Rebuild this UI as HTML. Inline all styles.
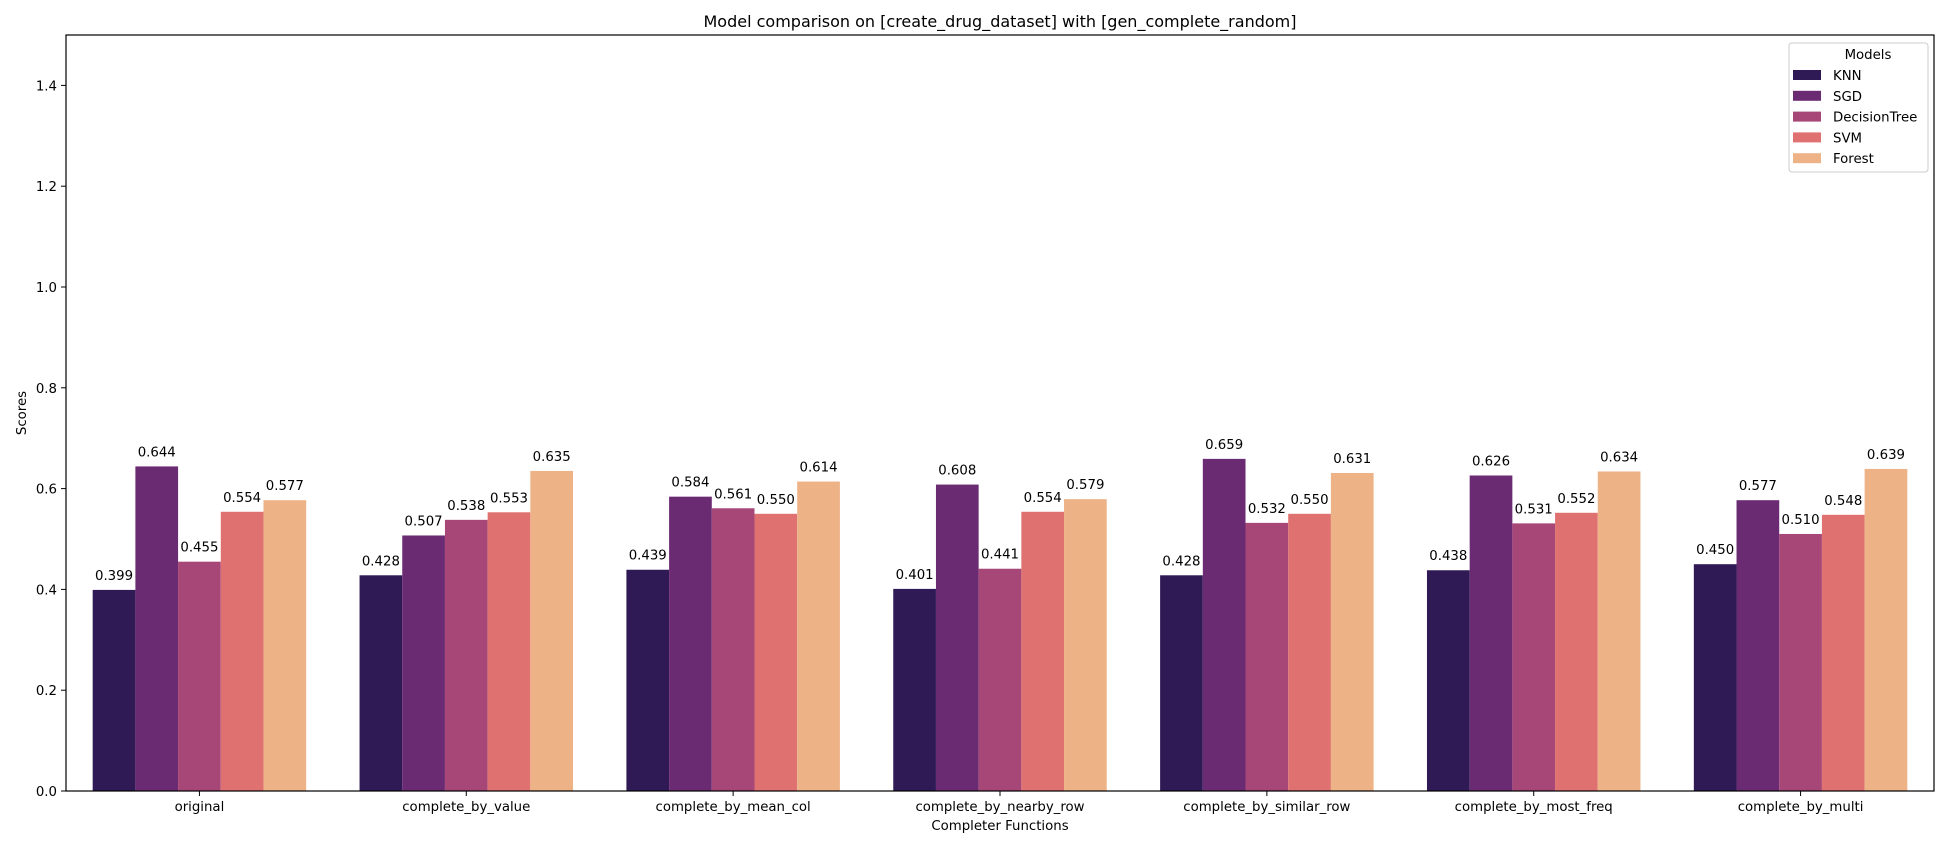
<!DOCTYPE html>
<html><head><meta charset="utf-8"><style>
html,body{margin:0;padding:0;background:#fff;}
svg{display:block;font-family:"DejaVu Sans","Liberation Sans",sans-serif;}
</style></head><body>
<svg id="chart" width="1950" height="850" viewBox="0 0 1950 850">
<rect x="0" y="0" width="1950" height="850" fill="#fff"/>
<text x="1000" y="27" font-size="16" text-anchor="middle" fill="#000">Model comparison on [create_drug_dataset] with [gen_complete_random]</text>
<g id="bars"></g>
<g id="labels"></g>
<g id="yaxis"></g>
<g id="xaxis"></g>
<rect x="66" y="35" width="1868" height="756" fill="none" stroke="#000" stroke-width="1.2"/>
<text x="1000" y="830" font-size="13.3" text-anchor="middle">Completer Functions</text>
<text x="26" y="413" font-size="13.3" text-anchor="middle" transform="rotate(-90 26 413)">Scores</text>
<g id="legend">
<rect x="1789" y="43" width="139" height="129" rx="3" fill="#fff" stroke="#ccc"/>
<text x="1868" y="59" font-size="13.3" text-anchor="middle">Models</text>
</g>
</svg>
<script>
const categories = ["original","complete_by_value","complete_by_mean_col","complete_by_nearby_row","complete_by_similar_row","complete_by_most_freq","complete_by_multi"];
const models = ["KNN","SGD","DecisionTree","SVM","Forest"];
const colors = ["#2f1a55","#6b2b73","#a64778","#df7270","#eeb287"];
const knn = [0.399,0.428,0.439,0.401,0.428,0.438,0.450];
const sgd = [0.644,0.507,0.584,0.608,0.659,0.626,0.577];
const decisionTree = [0.455,0.538,0.561,0.441,0.532,0.531,0.510];
const svm = [0.554,0.553,0.550,0.554,0.550,0.552,0.548];
const forest = [0.577,0.635,0.614,0.579,0.631,0.634,0.639];
const yTicks = [0.0,0.2,0.4,0.6,0.8,1.0,1.2,1.4];
const series = [knn,sgd,decisionTree,svm,forest];
const NS = "http://www.w3.org/2000/svg";
const L=66,R=1934,T=35,B=791,YMAX=1.5;
const y = v => B - v/YMAX*(B-T);
const groupW = (R-L)/categories.length;
const barW = groupW*0.8/models.length;
const xc = i => L + groupW*(i+0.5);
const bars=document.getElementById('bars'), labels=document.getElementById('labels');
series.forEach((s,m)=>{
  s.forEach((v,i)=>{
    const x = xc(i) - groupW*0.4 + m*barW;
    const r=document.createElementNS(NS,'rect');
    r.setAttribute('x',x);r.setAttribute('y',y(v));r.setAttribute('width',barW);r.setAttribute('height',B-y(v));r.setAttribute('fill',colors[m]);
    
    
    bars.appendChild(r);
    const t=document.createElementNS(NS,'text');
    t.setAttribute('x',x+barW/2);t.setAttribute('y',y(v)-10);t.setAttribute('font-size','13.3');t.setAttribute('text-anchor','middle');
    t.textContent=v.toFixed(3);
    
    
    labels.appendChild(t);
  });
});
const ya=document.getElementById('yaxis');
yTicks.forEach(v=>{
  const l=document.createElementNS(NS,'line');
  l.setAttribute('x1',L-5);l.setAttribute('x2',L);l.setAttribute('y1',y(v));l.setAttribute('y2',y(v));l.setAttribute('stroke','#000');
  
  
  ya.appendChild(l);
  const t=document.createElementNS(NS,'text');
  t.setAttribute('x',L-9);t.setAttribute('y',y(v)+5);t.setAttribute('font-size','13.3');t.setAttribute('text-anchor','end');
  t.textContent=v.toFixed(1);
  
  
  ya.appendChild(t);
});
const xa=document.getElementById('xaxis');
categories.forEach((c,i)=>{
  const l=document.createElementNS(NS,'line');
  l.setAttribute('x1',xc(i));l.setAttribute('x2',xc(i));l.setAttribute('y1',B);l.setAttribute('y2',B+5);l.setAttribute('stroke','#000');
  
  
  xa.appendChild(l);
  const t=document.createElementNS(NS,'text');
  t.setAttribute('x',xc(i));t.setAttribute('y',B+20);t.setAttribute('font-size','13.3');t.setAttribute('text-anchor','middle');
  t.textContent=c;
  
  
  xa.appendChild(t);
});
const lg=document.getElementById('legend');
models.forEach((m,k)=>{
  const yy=75+k*20.8;
  const r=document.createElementNS(NS,'rect');
  r.setAttribute('x',1793);r.setAttribute('y',yy-5);r.setAttribute('width',28);r.setAttribute('height',10);r.setAttribute('fill',colors[k]);
  
  
  lg.appendChild(r);
  const t=document.createElementNS(NS,'text');
  t.setAttribute('x',1833);t.setAttribute('y',yy+5);t.setAttribute('font-size','13.3');
  t.textContent=m;
  
  
  lg.appendChild(t);
});
</script>
</body></html>
